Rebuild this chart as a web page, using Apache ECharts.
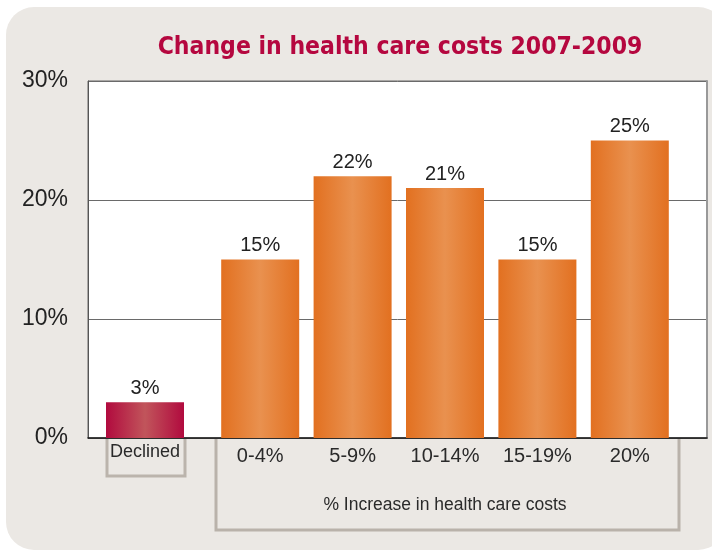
<!DOCTYPE html>
<html>
<head>
<meta charset="utf-8">
<script src="https://cdn.jsdelivr.net/npm/echarts@6/dist/echarts.min.js"></script>
<style>
  html, body { margin: 0; padding: 0; background: #fff; }
  #chart { width: 712px; height: 551px; }
</style>
</head>
<body>
<div id="chart"></div>
<script>
// Share of respondents by change in health care costs, 2007-2009
const declinedCategory = ['Declined'];
const declinedValues = [3];
const increaseCategories = ['0-4%', '5-9%', '10-14%', '15-19%', '20%'];
const increaseValues = [15, 22, 21, 15, 25];
const yTicks = [0, 10, 20, 30];

const titleText = 'Change in health care costs 2007-2009';
const increaseAxisName = '% Increase in health care costs';

const FONT = '"Liberation Sans", Arial, sans-serif';
const CONDENSED = '"DejaVu Sans Condensed", "Liberation Sans", sans-serif';

function barGradient(edge, mid) {
  return new echarts.graphic.LinearGradient(0, 0, 1, 0, [
    { offset: 0, color: edge },
    { offset: 0.5, color: mid },
    { offset: 1, color: edge }
  ]);
}

const valueLabel = {
  show: true,
  position: 'top',
  distance: 4,
  formatter: p => p.value + '%',
  color: '#222',
  fontFamily: FONT,
  fontSize: 20
};

const plotTop = 81, plotHeight = 357;
const yMin = yTicks[0], yMax = yTicks[yTicks.length - 1];

const chart = echarts.init(document.getElementById('chart'), null, { renderer: 'canvas' });

chart.setOption({
  backgroundColor: '#ffffff',
  animation: false,
  title: {
    text: titleText,
    left: 395,
    top: 30,
    textAlign: 'center',
    textStyle: {
      color: '#b5073f',
      fontFamily: CONDENSED,
      fontWeight: 'bold',
      fontSize: 24.5
    }
  },
  graphic: [
    {
      type: 'rect',
      z: -10,
      silent: true,
      shape: { x: 6, y: 7, width: 720, height: 543, r: 28 },
      style: { fill: '#ebe8e4' }
    },
    {
      type: 'polyline',
      z: 5,
      silent: true,
      shape: { points: [[107, 439], [107, 476], [185, 476], [185, 439]] },
      style: { stroke: '#bbb4ac', lineWidth: 3, fill: null }
    },
    {
      type: 'polyline',
      z: 5,
      silent: true,
      shape: { points: [[216, 439], [216, 530], [679, 530], [679, 439]] },
      style: { stroke: '#b9b2aa', lineWidth: 3, fill: null }
    }
  ],
  grid: [
    // frame with gridlines and the value axis
    { left: 88, top: plotTop, width: 619, height: plotHeight, show: true,
      backgroundColor: '#ffffff', borderColor: '#666', borderWidth: 1 },
    // "Declined" group
    { left: 88, top: plotTop, width: 114, height: plotHeight },
    // increase groups
    { left: 214, top: plotTop, width: 462, height: plotHeight }
  ],
  xAxis: [
    { gridIndex: 0, type: 'category', data: [''],
      axisLine: { show: true, lineStyle: { color: '#1a1a1a', width: 1.5 } },
      axisTick: { show: false }, axisLabel: { show: false } },
    { gridIndex: 1, type: 'category', data: declinedCategory,
      axisLine: { show: false }, axisTick: { show: false },
      axisLabel: { color: '#2a2a2a', fontFamily: FONT, fontSize: 18, margin: 5 } },
    { gridIndex: 2, type: 'category', data: increaseCategories,
      axisLine: { show: false }, axisTick: { show: false },
      axisLabel: { color: '#2a2a2a', fontFamily: FONT, fontSize: 20, margin: 8 },
      name: increaseAxisName, nameLocation: 'middle', nameGap: 58,
      nameTextStyle: { color: '#2a2a2a', fontFamily: FONT, fontSize: 17.5 } }
  ],
  yAxis: [
    { gridIndex: 0, type: 'value', min: yMin, max: yMax, interval: 10,
      axisLine: { show: true, lineStyle: { color: '#555', width: 1 } },
      axisTick: { show: false },
      axisLabel: { formatter: '{value}%', color: '#222', fontFamily: FONT, fontSize: 23, margin: 20 },
      splitLine: { show: true, lineStyle: { color: '#6a6a6a', width: 1 } } },
    { gridIndex: 0, type: 'value', position: 'right', min: yMin, max: yMax, interval: 10,
      axisLine: { show: true, lineStyle: { color: '#999', width: 2 } },
      axisTick: { show: false }, axisLabel: { show: false }, splitLine: { show: false } },
    { gridIndex: 1, type: 'value', min: yMin, max: yMax, show: false },
    { gridIndex: 2, type: 'value', min: yMin, max: yMax, show: false }
  ],
  series: [
    {
      type: 'bar',
      xAxisIndex: 1, yAxisIndex: 2,
      data: declinedValues,
      barWidth: 78,
      z: 3,
      itemStyle: { color: barGradient('#b10a3e', '#c1555b') },
      label: valueLabel
    },
    {
      type: 'bar',
      xAxisIndex: 2, yAxisIndex: 3,
      data: increaseValues,
      barWidth: 78,
      z: 3,
      itemStyle: { color: barGradient('#e27020', '#e9914f') },
      label: valueLabel
    }
  ]
});
</script>
</body>
</html>
